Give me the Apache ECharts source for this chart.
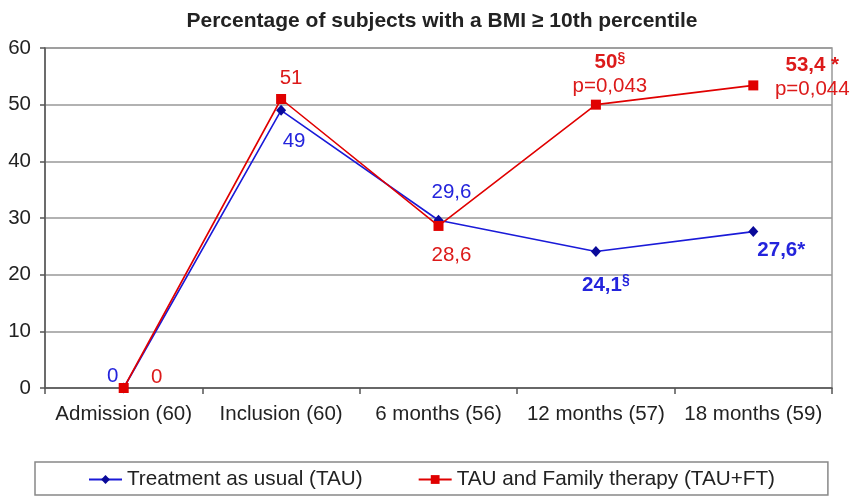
<!DOCTYPE html>
<html>
<head>
<meta charset="utf-8">
<script src="https://cdn.jsdelivr.net/npm/echarts@6/dist/echarts.min.js"></script>
<style>html,body{margin:0;padding:0;background:#fff;}#c{width:850px;height:497px;}</style>
</head>
<body>
<div id="c"></div>
<script>
var categories = ['Admission (60)', 'Inclusion (60)', '6 months (56)', '12 months (57)', '18 months (59)'];
var tauValues = [0, 49, 29.6, 24.1, 27.6];
var ftValues = [0, 51, 28.6, 50, 53.4];
var tauLabels = ['{n|0}', '{n|49}', '{n|29,6}', '{b|24,1}{s|§}', '{b|27,6*}'];
var ftLabels = ['{n|0}', '{n|51}', '{n|28,6}', '{b|50}{s|§}\n{n|p=0,043}', '{b|53,4 *}\n{n|p=0,044}'];
var yTicks = [0, 10, 20, 30, 40, 50, 60];

var FONT = '"Liberation Sans", Arial, sans-serif';
var BLUE = '#1a1ad8';
var RED = '#e00000';
var BLUE_T = '#2424dc';
var RED_T = '#dc1a1a';
var FS = 20.5;

// label offsets (styling, not data)
var tauOffsets = [[-11, -12], [13, 31], [13, -28], [10, 34], [28, 19]];
var ftOffsets = [[33, -11], [10, -21], [13, 29], [14, -30], [59, -8]];

function rich(color) {
  return {
    n: { fontFamily: FONT, fontSize: FS, color: color, lineHeight: 24 },
    b: { fontFamily: FONT, fontSize: FS, fontWeight: 'bold', color: color, lineHeight: 24 },
    s: { fontFamily: FONT, fontSize: 14, fontWeight: 'bold', color: color, lineHeight: 24, verticalAlign: 'top', padding: [0, 0, 6, 0] }
  };
}

function buildData(values, labels, offsets, color) {
  return values.map(function (v, i) {
    return {
      value: v,
      label: {
        show: true,
        position: 'inside',
        offset: offsets[i],
        align: 'center',
        verticalAlign: 'middle',
        formatter: labels[i],
        rich: rich(color)
      }
    };
  });
}

var chart = echarts.init(document.getElementById('c'), null, { renderer: 'canvas' });
chart.setOption({
  animation: false,
  backgroundColor: '#ffffff',
  textStyle: { fontFamily: FONT },
  title: {
    text: 'Percentage of subjects with a BMI \u2265 10th percentile',
    left: 437,
    textAlign: 'center',
    top: 6,
    textStyle: { fontFamily: FONT, fontSize: 21, fontWeight: 'bold', color: '#222' }
  },
  grid: {
    left: 45, right: 18, top: 48, bottom: 109,
    show: true, borderColor: '#999', borderWidth: 1.5, backgroundColor: 'transparent'
  },
  legend: {
    left: 35, top: 462,
    padding: [7, 53, 5, 53],
    itemWidth: 33, itemHeight: 11, itemGap: 55,
    borderColor: '#888', borderWidth: 1.5, borderRadius: 0,
    textStyle: { fontFamily: FONT, fontSize: 20.7, color: '#222' },
    data: ['Treatment as usual (TAU)', 'TAU and Family therapy (TAU+FT)']
  },
  xAxis: {
    type: 'category',
    data: categories,
    boundaryGap: true,
    axisLine: { lineStyle: { color: '#555', width: 1.5 } },
    axisTick: { show: true, length: 6, lineStyle: { color: '#555', width: 1.5 } },
    axisLabel: { interval: 0, margin: 16, fontFamily: FONT, fontSize: FS, color: '#222' },
    splitLine: { show: false }
  },
  yAxis: {
    type: 'value',
    min: yTicks[0], max: yTicks[yTicks.length - 1], interval: 10,
    axisLine: { show: true, lineStyle: { color: '#555', width: 1.5 } },
    axisTick: { show: true, length: 5, lineStyle: { color: '#555', width: 1.5 } },
    axisLabel: { margin: 14, fontFamily: FONT, fontSize: FS, color: '#222' },
    splitLine: { show: true, lineStyle: { color: '#999', width: 1.5 } }
  },
  series: [
    {
      name: 'Treatment as usual (TAU)',
      type: 'line',
      data: buildData(tauValues, tauLabels, tauOffsets, BLUE_T),
      symbol: 'diamond', symbolSize: [10, 11],
      lineStyle: { color: BLUE, width: 1.6 },
      itemStyle: { color: '#0a0a9a', borderWidth: 0 },
      z: 3
    },
    {
      name: 'TAU and Family therapy (TAU+FT)',
      type: 'line',
      data: buildData(ftValues, ftLabels, ftOffsets, RED_T),
      symbol: 'rect', symbolSize: 10,
      lineStyle: { color: RED, width: 1.6 },
      itemStyle: { color: RED, borderWidth: 0 },
      z: 4
    }
  ]
});
</script>
</body>
</html>
